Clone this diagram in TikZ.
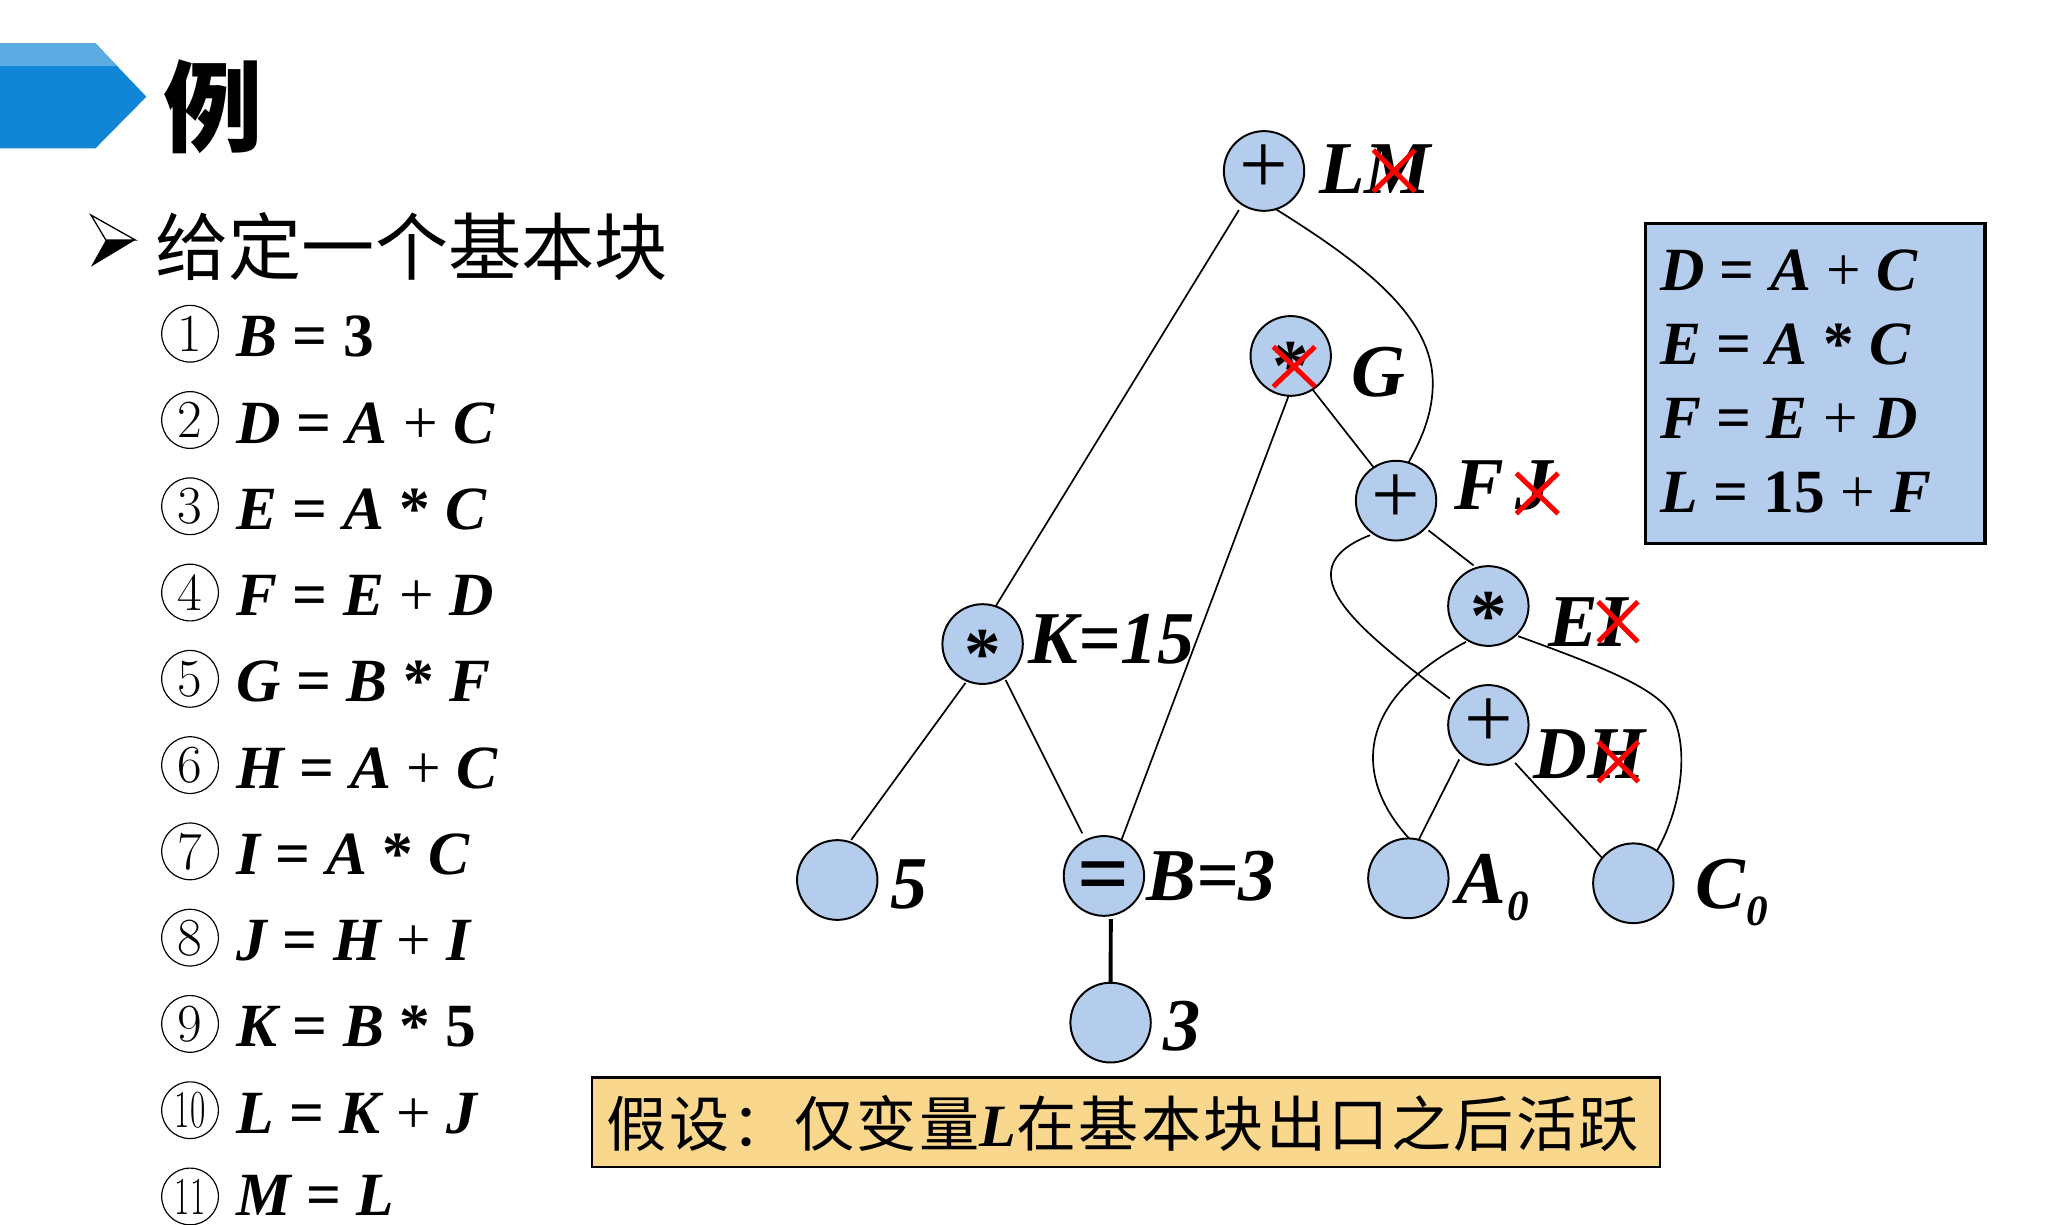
\documentclass[tikz,border=0pt]{standalone}
\usepackage{fontspec}
\usepackage{graphicx}
\usetikzlibrary{shapes.geometric}
\newfontfamily\tnr{Liberation Serif}
\newfontfamily\cjk{Noto Sans CJK SC}
\newfontfamily\cjkls[LetterSpace=4]{Noto Sans CJK SC}
\definecolor{hdrdark}{RGB}{17,133,214}
\definecolor{hdrlight}{RGB}{92,172,227}
\definecolor{nodefill}{RGB}{181,205,236}
\definecolor{boxfill}{RGB}{181,205,236}
\definecolor{ylw}{RGB}{249,216,142}
\newcommand{\OpEq}{{\upshape\bfseries =}}
\newcommand{\OpPl}{{\upshape\mdseries +}}
\newcommand{\OpSt}{{\upshape\bfseries *}}
\newcommand{\UpB}[1]{{\upshape\bfseries #1}}
\newcommand{\vc}[2]{\smash{\raisebox{-#1}{#2}}}
\newcommand{\subz}{\kern1pt\raisebox{-13pt}{\fontsize{33}{33}\selectfont 0}}
\tikzset{
  opnode/.style={ellipse, draw, line width=1.5pt, fill=nodefill, minimum width=61.5pt, minimum height=61pt, inner sep=0pt, outer sep=0pt},
  opplus/.style={font=\tnr\fontsize{66}{66}\selectfont},
  opbold/.style={font=\tnr\bfseries\fontsize{56}{56}\selectfont},
  opeq/.style={font=\tnr\bfseries\fontsize{70}{70}\selectfont},
  edgeln/.style={line width=1.3pt},
  lbl/.style={anchor=base west, inner sep=0pt, outer sep=0pt, font=\tnr\bfseries\itshape\fontsize{57}{60}\selectfont},
  listtxt/.style={anchor=base west, inner sep=0pt, outer sep=0pt, font=\tnr\bfseries\itshape\fontsize{47}{50}\selectfont},
  numc/.style={circle, draw, line width=0.9pt, minimum size=43.4pt, inner sep=0pt, font=\rmfamily\fontsize{41}{43}\selectfont},
  xmark/.style={red, line width=3.8pt},
  cjktxt/.style={anchor=base west, inner sep=0pt, outer sep=0pt}
}
\begin{document}
\begin{tikzpicture}[x=1pt,y=-1pt]
\useasboundingbox (0,0) rectangle (1567.5,937);

% header
\fill[hdrdark] (0,33.1) -- (73,33.1) -- (112,74) -- (73,113.5) -- (0,113.5) -- cycle;
\fill[hdrlight] (0,33.1) -- (73,33.1) -- (89.6,50.5) -- (0,50.5) -- cycle;
\node[cjktxt] (title) at (125,110.5) {\cjk\bfseries\fontsize{76}{76}\selectfont 例};

% bullet and heading
\filldraw[fill=white, draw=black, line width=1pt, line join=miter] (69.6,164.5) -- (103.5,183.6) -- (81,183.6) -- cycle;
\fill[black] (81,183.6) -- (103.5,183.6) -- (69.6,204) -- cycle;
\node[cjktxt] (head) at (119,210) {\cjk\fontsize{56}{56}\selectfont 给定一个基本块};

% list
\node[numc] (c1) at (145.4,255.3) {\vc{0.33em}{1}};
\node[numc] (c2) at (145.4,321.3) {\vc{0.33em}{2}};
\node[numc] (c3) at (145.4,387.3) {\vc{0.33em}{3}};
\node[numc] (c4) at (145.4,453.3) {\vc{0.33em}{4}};
\node[numc] (c5) at (145.4,519.3) {\vc{0.33em}{5}};
\node[numc] (c6) at (145.4,585.3) {\vc{0.33em}{6}};
\node[numc] (c7) at (145.4,651.3) {\vc{0.33em}{7}};
\node[numc] (c8) at (145.4,717.3) {\vc{0.33em}{8}};
\node[numc] (c9) at (145.4,783.3) {\vc{0.33em}{9}};
\node[numc] (c10) at (145.4,849.3) {\vc{0.33em}{\scalebox{0.62}[1]{10}}};
\node[numc] (c11) at (145.4,915.3) {\vc{0.33em}{\scalebox{0.62}[1]{11}}};

\node[listtxt] (t1) at (181,272.9) {B \OpEq{} \UpB{3}};
\node[listtxt] (t2) at (181,338.9) {D \OpEq{} A \OpPl{} C};
\node[listtxt] (t3) at (181,404.9) {E \OpEq{} A \OpSt{} C};
\node[listtxt] (t4) at (181,470.9) {F \OpEq{} E \OpPl{} D};
\node[listtxt] (t5) at (181,536.9) {G \OpEq{} B \OpSt{} F};
\node[listtxt] (t6) at (181,602.9) {H \OpEq{} A \OpPl{} C};
\node[listtxt] (t7) at (181,668.9) {I \OpEq{} A \OpSt{} C};
\node[listtxt] (t8) at (181,734.9) {J \OpEq{} H \OpPl{} I};
\node[listtxt] (t9) at (181,800.9) {K \OpEq{} B \OpSt{} \UpB{5}};
\node[listtxt] (t10) at (181,866.9) {L \OpEq{} K \OpPl{} J};
\node[listtxt] (t11) at (181,930) {M \OpEq{} L};

% right box
\node[draw, line width=2.5pt, fill=boxfill, minimum width=259.5pt, minimum height=244.8pt, inner sep=0pt] (defbox) at (1388.75,293.25) {};
\node[listtxt] (b1) at (1270,221.9) {D \OpEq{} A \OpPl{} C};
\node[listtxt] (b2) at (1270,278.5) {E \OpEq{} A \OpSt{} C};
\node[listtxt] (b3) at (1270,335.3) {F \OpEq{} E \OpPl{} D};
\node[listtxt] (b4) at (1270,392.2) {L \OpEq{} \UpB{15} \OpPl{} F};

% bottom box
\node[draw, line width=2pt, fill=ylw, minimum width=817pt, minimum height=68.7pt, inner sep=0pt] (notebox) at (861.5,858.5) {};
\node[cjktxt] (note) at (464,877) {\cjkls\fontsize{46}{46}\selectfont 假设：仅变量{\tnr\bfseries\itshape L}在基本块出口之后活跃};

% tree nodes
\node[opnode, opplus] (lm) at (967,130.8) {\vc{0.26em}{+}};
\node[opnode, opbold] (g) at (987.4,272.3) {\vc{0.47em}{*}};
\node[opnode, opplus] (f) at (1068,383) {\vc{0.26em}{+}};
\node[opnode, opbold] (e) at (1138.6,463.6) {\vc{0.47em}{*}};
\node[opnode, opplus] (d) at (1138.6,554.6) {\vc{0.26em}{+}};
\node[opnode, opbold] (k) at (751.7,492.7) {\vc{0.47em}{*}};
\node[opnode, opeq] (eq) at (844.5,670.1) {\vc{0.31em}{=}};
\node[opnode] (n5) at (640.5,673.2) {};
\node[opnode] (n3) at (849.6,782.3) {};
\node[opnode] (a0) at (1077.4,671.9) {};
\node[opnode] (c0) at (1249.5,675.7) {};

% edges
\draw[edgeln, shorten <=5pt] (lm.-123) -- (k.71);
\draw[edgeln] (lm.-73) .. controls (1040,200) and (1094,240) .. (1096,290) .. controls (1097,318) and (1085,340) .. (f.72);
\draw[edgeln] (g.-93) -- (eq.64);
\draw[edgeln] (g.-57) -- (f.124);
\draw[edgeln, shorten <=2pt, shorten >=2pt] (k.-113) -- (n5.72);
\draw[edgeln, shorten <=2pt, shorten >=6pt] (k.-57) -- (eq.117);
\draw[line width=3pt, shorten <=3pt] (eq.-80) -- (n3.90);
\draw[edgeln, shorten <=3pt, shorten >=3pt] (f.-43) -- (e.107);
\draw[edgeln, shorten <=3pt, shorten >=5pt] (f.-124) .. controls (980,436) and (1040,482) .. (d.146);
\draw[edgeln, shorten <=2pt] (e.-120) .. controls (1030,540) and (1040,600) .. (a0.89);
\draw[edgeln, shorten <=2pt] (e.-47) .. controls (1220,508) and (1265,525) .. (1278,545) .. controls (1292,568) and (1288,615) .. (c0.54);
\draw[edgeln, shorten <=4pt] (d.-132) -- (a0.75);
\draw[edgeln, shorten <=5pt] (d.-56) -- (c0.141);

% labels
\node[lbl] (llm) at (1009.3,148.4) {LM};
\node[lbl] (lg) at (1034,303.5) {G};
\node[lbl] (lf) at (1113,390) {F\kern8pt J};
\node[lbl] (le) at (1184.5,494.7) {EI};
\node[lbl] (ld) at (1173,595.4) {DH};
\node[lbl] (lk) at (786.7,507.4) {K=15};
\node[lbl] (leq) at (877,688.5) {B=3};
\node[lbl] (l5) at (680.9,694.9) {5};
\node[lbl] (l3) at (890,803.3) {3};
\node[lbl] (la) at (1114,691) {A\subz};
\node[lbl] (lc) at (1296.7,695) {C\subz};

% red crosses
\draw[xmark] (1050.6,114.8) -- (1082.5,146.6) (1082.5,114.8) -- (1050.6,146.6);
\draw[xmark] (974.1,265.2) -- (1006,295.8) (1006,265.2) -- (974.1,295.8);
\draw[xmark] (1160,362) -- (1192,393) (1192,362) -- (1160,393);
\draw[xmark] (1222.6,460.3) -- (1253,491) (1253,460.3) -- (1222.6,491);
\draw[xmark] (1222.7,567.4) -- (1253.3,598) (1253.3,567.4) -- (1222.7,598);
\end{tikzpicture}
\end{document}
